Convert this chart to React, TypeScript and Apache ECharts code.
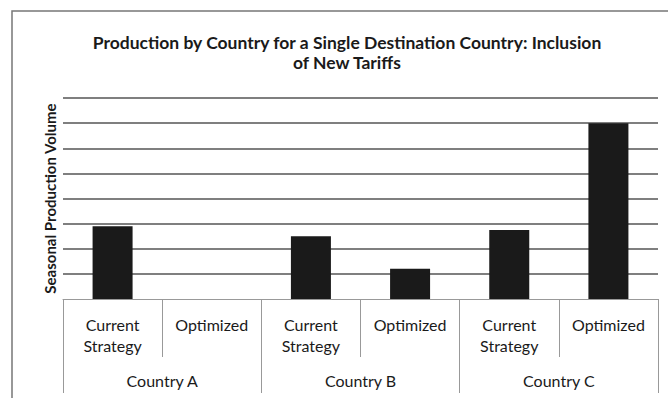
import React, { useEffect, useRef } from "react";
import * as echarts from "echarts";

const strategies = ["Current\nStrategy", "Optimized", "Current\nStrategy", "Optimized", "Current\nStrategy", "Optimized"];
const countries = ["Country A", "Country B", "Country C"];
const volumes = [2.9, 0, 2.5, 1.2, 2.75, 7.0];
const titleText = "Production by Country for a Single Destination Country: Inclusion\nof New Tariffs";
const yName = "Seasonal Production Volume";

const FONT = "Lato";

export default function App() {
  const ref = useRef<HTMLDivElement>(null);
  useEffect(() => {
    document.body.style.margin = "0";
    const chart = echarts.init(ref.current!, null, { renderer: "svg" });
    chart.setOption({
      animation: false,
      backgroundColor: "#ffffff",
      textStyle: { fontFamily: FONT },
      grid: { left: 63, right: 10, top: 98, bottom: 99 },
      graphic: [
        {
          type: "rect",
          shape: { x: 12, y: 11, width: 700, height: 420 },
          style: { fill: "none", stroke: "#777", lineWidth: 1.5 },
          silent: true,
        },
        {
          type: "text",
          x: 347,
          y: 32,
          style: {
            text: titleText,
            fontFamily: FONT,
            fontSize: 17.5,
            fontWeight: "bold",
            lineHeight: 20,
            align: "center",
            verticalAlign: "top",
            fill: "#1a1a1a",
          },
        },
      ],
      xAxis: [
        {
          type: "category",
          data: strategies,
          position: "bottom",
          axisLine: { show: true, lineStyle: { color: "#999", width: 1 } },
          axisTick: { show: true, interval: 0, length: 58, lineStyle: { color: "#999" } },
          axisLabel: {
            interval: 0,
            margin: 15,
            fontSize: 16,
            lineHeight: 21,
            color: "#1a1a1a",
            fontFamily: FONT,
          },
        },
        {
          type: "category",
          data: countries,
          position: "bottom",
          axisLine: { show: false },
          axisTick: { show: true, interval: 0, length: 94, lineStyle: { color: "#999" } },
          axisLabel: {
            interval: 0,
            margin: 71,
            fontSize: 16,
            lineHeight: 21,
            color: "#1a1a1a",
            fontFamily: FONT,
          },
        },
      ],
      yAxis: {
        type: "value",
        min: 0,
        max: 8,
        interval: 1,
        name: yName,
        nameLocation: "middle",
        nameGap: 6,
        nameTextStyle: { fontSize: 15, fontWeight: "bold", color: "#1a1a1a", fontFamily: FONT },
        axisLine: { show: false },
        axisTick: { show: false },
        axisLabel: { show: false },
        splitLine: { show: true, showMinLine: false, lineStyle: { color: "#555", width: 1.5 } },
      },
      series: [
        {
          type: "bar",
          xAxisIndex: 0,
          data: volumes,
          barWidth: 40,
          itemStyle: { color: "#1a1a1a" },
        },
      ],
    });
    return () => chart.dispose();
  }, []);
  return <div ref={ref} style={{ position: "fixed", left: 0, top: 0, width: 668, height: 398 }} />;
}
